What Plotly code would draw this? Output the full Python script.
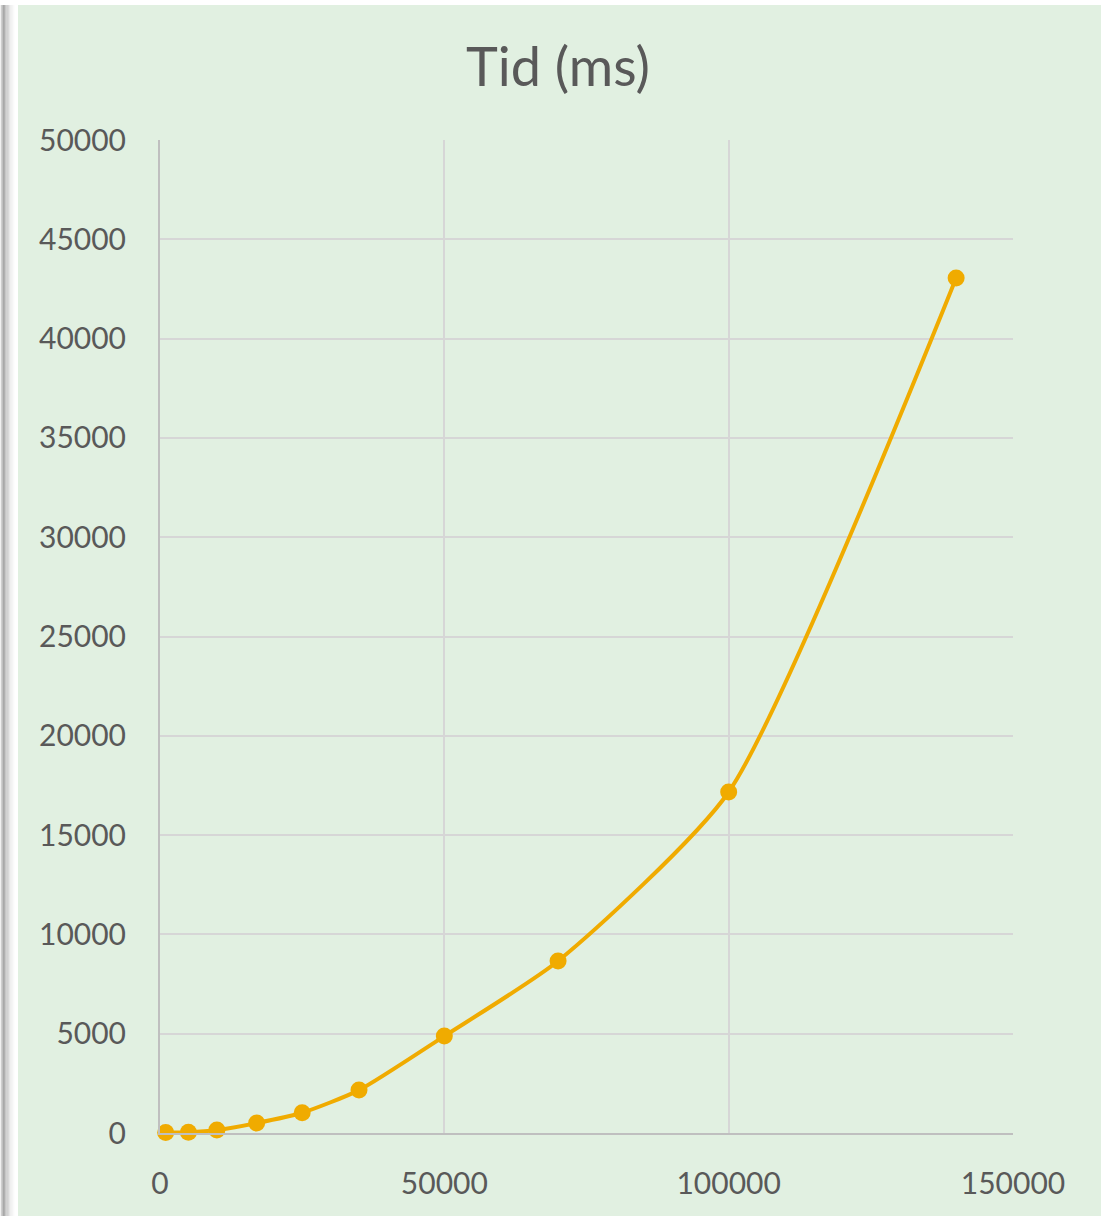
import plotly.graph_objects as go

# Data
n_values = [1000, 5000, 10000, 17000, 25000, 35000, 50000, 70000, 100000, 140000]
tid_ms = [20, 40, 150, 500, 1020, 2160, 4880, 8660, 17170, 43050]
title_text = "Tid (ms)"
x_ticks = [0, 50000, 100000, 150000]
y_ticks = [0, 5000, 10000, 15000, 20000, 25000, 30000, 35000, 40000, 45000, 50000]

W, H = 1101, 1216
ML, MR, MT, MB = 160, 88, 140, 83
PW, PH = W - ML - MR, H - MT - MB

def px_x(p):
    return (p - ML) / PW

def px_y(p):
    return (H - MB - p) / PH

BG = "#E1F0E1"
FONT = "Lato"
TXT = "#595959"

fig = go.Figure()
fig.add_trace(go.Scatter(
    x=n_values, y=tid_ms, mode="lines+markers",
    line=dict(color="#F0AB00", width=4, shape="spline", smoothing=0.6),
    marker=dict(color="#F0AB00", size=17),
    showlegend=False, cliponaxis=False,
))

shapes = [
    dict(type="rect", xref="paper", yref="paper", x0=px_x(18), x1=px_x(W + 5),
         y0=px_y(H + 5), y1=px_y(5), fillcolor=BG, line=dict(width=0), layer="below"),
]
shadow = ["#f0f0f0", "#bdbdbd", "#a8a8a8", "#b0b0b0", "#bebebe", "#cccccc", "#d9d9d9", "#e4e4e4", "#eeeeee", "#f5f5f5", "#fafafa"]
for i, c in enumerate(shadow):
    shapes.append(dict(type="rect", xref="paper", yref="paper", x0=px_x(i * 1.3), x1=px_x(i * 1.3 + 1.4),
                       y0=px_y(H + 5), y1=px_y(5), fillcolor=c, line=dict(width=0), layer="below"))

fig.update_layout(
    width=W, height=H,
    margin=dict(l=ML, r=MR, t=MT, b=MB, pad=0),
    paper_bgcolor="white", plot_bgcolor=BG,
    shapes=shapes,
    title=dict(text=title_text, x=558 / W, xanchor="center", xref="container",
               y=1 - 67 / H, yanchor="middle", yref="container",
               font=dict(family=FONT, size=54, color=TXT)),
    font=dict(family=FONT, size=30, color=TXT),
    xaxis=dict(range=[0, 150000], tickvals=x_ticks, ticktext=[str(v) for v in x_ticks],
               showgrid=True, gridcolor="#D6D6D6", gridwidth=1.5,
               showline=True, linecolor="#BFBFBF", linewidth=2, mirror=False,
               zeroline=False, ticks="", ticklabelstandoff=23,
               tickfont=dict(family=FONT, size=30, color=TXT)),
    yaxis=dict(range=[0, 50000], tickvals=y_ticks, ticktext=[str(v) for v in y_ticks],
               showgrid=True, gridcolor="#D6D6D6", gridwidth=1.5,
               showline=True, linecolor="#BFBFBF", linewidth=2,
               zeroline=False, ticks="", ticklabelstandoff=26,
               tickfont=dict(family=FONT, size=30, color=TXT)),
)

fig.write_html("out.html", config={"displayModeBar": False},
               post_script="document.body.style.margin='0';document.body.style.overflow='hidden';")
